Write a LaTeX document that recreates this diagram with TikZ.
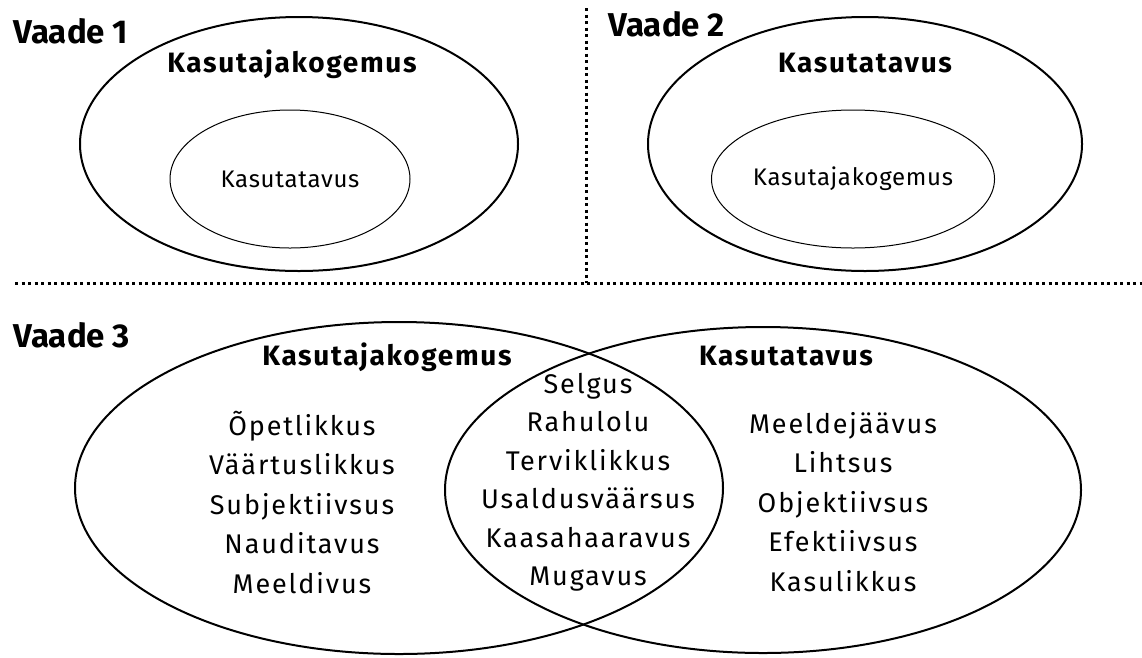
\documentclass[tikz,border=0pt]{standalone}
\usepackage{fontspec}
\setmainfont{Fira Sans}
\usetikzlibrary{shapes.geometric}

\begin{document}
\begin{tikzpicture}[x=1pt, y=-1pt,
  outer/.style={ellipse, draw, line width=2pt, inner sep=0pt},
  inner/.style={ellipse, draw, line width=1pt, inner sep=0pt, font=\fontsize{24}{28}\selectfont\addfontfeature{LetterSpace=3}},
  vaade/.style={anchor=base west, font=\bfseries\fontsize{33}{38}\selectfont},
  title/.style={anchor=base, font=\bfseries\fontsize{28}{32}\selectfont\addfontfeature{LetterSpace=6}},
  words/.style={align=center, font=\fontsize{27}{39.5}\selectfont\addfontfeature{LetterSpace=7}},
  sep/.style={line width=3pt, dash pattern=on 3pt off 3.5pt}]
\useasboundingbox (0,0) rectangle (1142,657);
% Vaade 1
\node[vaade] (v1) at (10,43) {Vaade 1};
\node[outer, minimum width=438pt, minimum height=254pt] (kx1) at (299,144) {};
\node[title] (t1) at (292,72) {Kasutajakogemus};
\node[inner, minimum width=240pt, minimum height=138pt] (ka1) at (290,179) {Kasutatavus};
% Vaade 2
\node[vaade] (v2) at (605,36) {Vaade 2};
\node[outer, minimum width=434pt, minimum height=254pt] (ka2) at (865,144) {};
\node[title] (t2) at (865,72) {Kasutatavus};
\node[inner, minimum width=240pt, minimum height=138pt] (kx2) at (853,179) {Kasutajakogemus};
% eraldusjooned
\coordinate (hl) at (15,283);
\coordinate (hr) at (1142,283);
\coordinate (vt) at (586,8);
\coordinate (vb) at (586,283);
\draw[sep] (hl) -- (hr);
\draw[sep] (vt) -- (vb);
% Vaade 3
\node[vaade] (v3) at (10,347) {Vaade 3};
\node[outer, minimum width=648pt, minimum height=332pt] (kx3) at (399,488) {};
\node[outer, minimum width=636pt, minimum height=326pt] (ka3) at (763,490) {};
\node[title] (t3) at (387,365) {Kasutajakogemus};
\node[title] (t4) at (786,365) {Kasutatavus};
\node[words] (left) at (302,502) {Õpetlikkus\\Väärtuslikkus\\Subjektiivsus\\Nauditavus\\Meeldivus};
\node[words, font=\fontsize{27}{38.5}\selectfont\addfontfeature{LetterSpace=7}] (mid) at (588,482) {Selgus\\Rahulolu\\Terviklikkus\\Usaldusväärsus\\Kaasahaaravus\\Mugavus};
\node[words] (right) at (843,502) {Meeldejäävus\\Lihtsus\\Objektiivsus\\Efektiivsus\\Kasulikkus};
\end{tikzpicture}
\end{document}
